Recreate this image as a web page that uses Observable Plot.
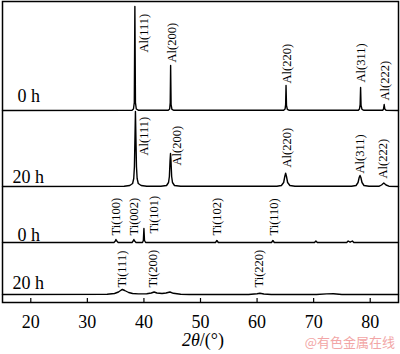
<!DOCTYPE html>
<html><head><meta charset="utf-8">
<script src="https://cdn.jsdelivr.net/npm/d3@7"></script>
<script src="https://cdn.jsdelivr.net/npm/@observablehq/plot@0.6"></script>
<style>body{margin:0;background:#fff} svg{display:block}</style>
</head><body><div id="chart"></div>
<script>
// ---- data: [2θ (°), intensity (a.u.)] ----
const xTicks = [20, 30, 40, 50, 60, 70, 80];
const seriesNames = ["0 h", "20 h", "0 h", "20 h"];

const al0h = [[15,0],[37.9,0.3],[38.15,1.5],[38.3,8],[38.4,104],[38.5,8],[38.65,1.5],[39.0,0.3],
  [44.3,0.3],[44.55,1.5],[44.65,8],[44.72,45],[44.8,6],[44.95,1.2],[45.3,0.2],
  [64.7,0.2],[64.95,1.5],[65.05,6],[65.12,25],[65.2,5],[65.35,1.2],[65.7,0.2],
  [77.9,0.2],[78.1,1.5],[78.22,6],[78.3,23],[78.38,5],[78.55,1.2],[78.9,0.2],
  [82.2,0.2],[82.35,1.5],[82.47,6],[82.58,1.5],[82.8,0.2],[85,0]];

const al20h = [[15,0],[36.5,0.3],[37.5,1],[38.0,3],[38.2,8],[38.32,20],[38.42,50],[38.5,75],[38.58,50],[38.68,20],[38.8,8],[39.0,3],[39.5,1],[40.5,0.3],
  [43.0,0.3],[44.0,1],[44.35,4],[44.5,10],[44.62,26],[44.7,33],[44.78,26],[44.9,10],[45.05,4],[45.4,1],[46.5,0.3],
  [63.5,0.3],[64.3,1],[64.7,4],[64.9,10],[65.05,13.3],[65.2,10],[65.4,4],[65.8,1],[66.7,0.3],
  [76.7,0.3],[77.5,1],[77.85,4],[78.05,9],[78.2,11],[78.35,9],[78.55,4],[78.9,1],[79.8,0.3],
  [81.6,0.3],[82.0,1.5],[82.4,3.5],[82.8,1.5],[83.3,0.3],[85,0]];

const ti0h = [[15,0],[34.7,0],[34.95,1.5],[35.05,3],[35.2,1.5],[35.45,0],
  [37.9,0],[38.1,1.5],[38.22,3],[38.35,1.5],[38.6,0],
  [39.75,0],[39.9,2],[40.0,14],[40.1,2],[40.3,0],
  [52.65,0],[52.9,2],[53.15,0],
  [62.55,0],[62.8,2],[63.05,0],
  [70.15,0],[70.4,1.5],[70.65,0],
  [75.85,0],[76.1,1.5],[76.45,0.3],[76.85,1.5],[77.1,0],[85,0]];

const ti20h = [[15,0],[33.5,0.3],[34.8,1],[35.5,2.5],[36.0,4.5],[36.2,5],[36.6,4],[37.3,2],[38.0,1],[39.0,0.6],[40.5,0.8],
  [41.3,1.5],[41.8,2.5],[42.3,1.5],[43.2,1],[43.9,1.5],[44.6,2.5],[45.2,1.2],[46.5,0.3],[48,0],
  [58.5,0],[60.0,0.8],[60.5,1.2],[61.2,0.5],[62.5,0],[70.5,0],[72.3,0.6],[73.5,0.7],[75,0],[85,0]];

const al0hLabels  = ["Al(111)","Al(200)","Al(220)","Al(311)","Al(222)"];
const al0hLabelX  = [39.93, 45.04, 65.33, 78.32, 82.6];
const al20hLabels = ["Al(111)","Al(200)","Al(220)","Al(311)","Al(222)"];
const al20hLabelX = [39.93, 45.8, 65.33, 78.2, 82.2];
const ti0hLabels  = ["Ti(100)","Ti(002)","Ti(101)","Ti(102)","Ti(110)"];
const ti0hLabelX  = [35.0, 38.17, 41.7, 53.0, 63.0];
const ti20hLabels = ["Ti(111)","Ti(200)","Ti(220)"];
const ti20hLabelX = [36.17, 41.64, 60.4];

// ---- layout (stacking offsets and label heights, in plot units) ----
const curves = [al0h, al20h, ti0h, ti20h];
const baseline = [192, 116, 60, 8];
const labelSets = [
  {t: al0hLabels,  x: al0hLabelX,  y: [250, 240, 219, 220, 202]},
  {t: al20hLabels, x: al20hLabelX, y: [147, 137, 135, 129, 124]},
  {t: ti0hLabels,  x: ti0hLabelX,  y: [67, 67, 69, 67, 67]},
  {t: ti20hLabels, x: ti20hLabelX, y: [15, 15, 15]}
];
const nameY = [200.3, 119.3, 62, 14];

const rows = curves.flatMap((c, i) => c.map(([x, v]) => ({s: i, x, y: baseline[i] + v})));
const labels = labelSets.flatMap(L => L.t.map((t, j) => ({t, x: L.x[j], y: L.y[j]})));
const names = seriesNames.map((n, i) => ({n, y: nameY[i]}));

const serif = "'Liberation Serif','Times New Roman',serif";
const chart = Plot.plot({
  width: 400, height: 354,
  marginTop: 1, marginBottom: 52, marginLeft: 2, marginRight: 2,
  x: {domain: [15, 85]},
  y: {domain: [0, 301], axis: null},
  style: {fontFamily: serif, fontSize: "18px", background: "#fff", color: "#000"},
  marks: [
    Plot.line(rows, {x: "x", y: "y", z: "s", stroke: "#000", strokeWidth: 1.4}),
    Plot.ruleX(xTicks, {y1: 0, y2: 4, stroke: "#000", strokeWidth: 1.2}),
    Plot.axisX({ticks: xTicks, tickSize: 0, tickPadding: 13, fontSize: 18, label: null}),
    Plot.text(labels, {x: "x", y: "y", text: "t", rotate: -90, textAnchor: "start", fontSize: 12.5, fill: "#000"}),
    Plot.text(names.filter(d => d.n === "0 h"), {frameAnchor: "left", y: "y", text: "n", textAnchor: "start", lineAnchor: "bottom", dx: 15, fontSize: 18, fill: "#000"}),
    Plot.text(names.filter(d => d.n === "20 h"), {frameAnchor: "left", y: "y", text: "n", textAnchor: "start", lineAnchor: "bottom", dx: 10, fontSize: 18, fill: "#000"}),
    Plot.frame({stroke: "#000", strokeWidth: 1.5})
  ]
});

const svg = d3.select(chart);
const xl = svg.append("text").attr("x", 203).attr("y", 346).attr("text-anchor", "middle")
  .style("font-family", serif).style("font-size", "18px").attr("fill", "#000");
xl.append("tspan").style("font-style", "italic").text("2θ");
xl.append("tspan").text("/(°)");
svg.append("text").attr("x", 395).attr("y", 347).attr("text-anchor", "end")
  .style("font-family", "'Noto Sans CJK SC',sans-serif").style("font-size", "13px")
  .attr("fill", "#f2a6a6").text("@有色金属在线");

document.getElementById("chart").appendChild(chart);
</script>
</body></html>
